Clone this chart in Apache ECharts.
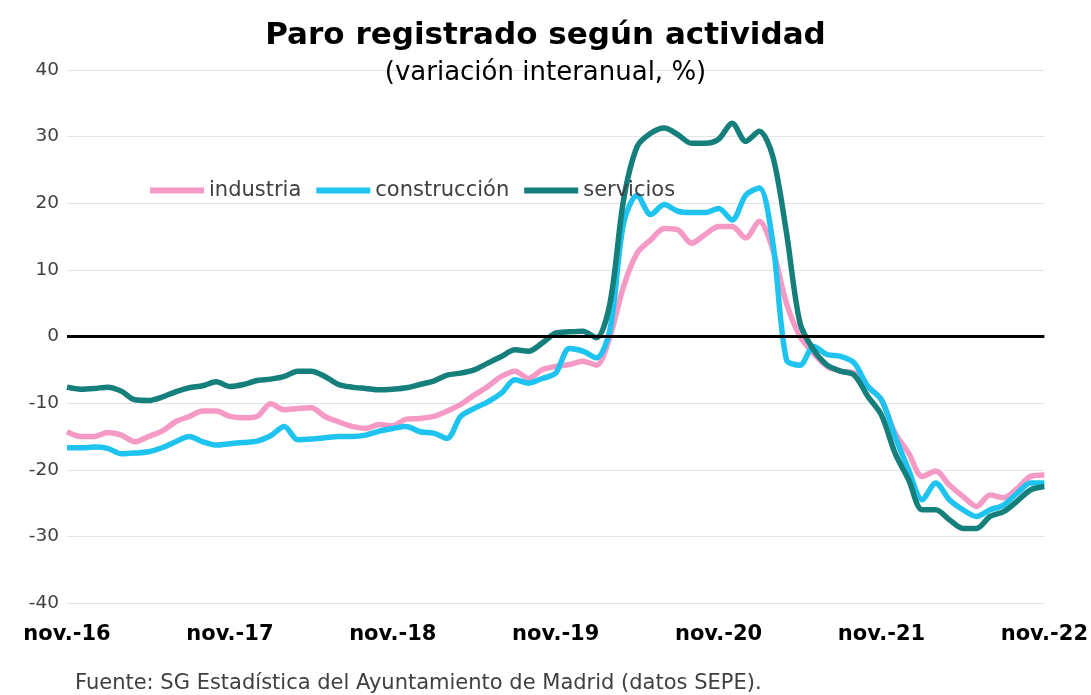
<!DOCTYPE html>
<html>
<head>
<meta charset="utf-8">
<script src="https://cdn.jsdelivr.net/npm/echarts@6/dist/echarts.min.js"></script>
<style>html,body{margin:0;padding:0;background:#fff}#c{width:1091px;height:695px}</style>
</head>
<body>
<div id="c"></div>
<script>
// month labels (Spanish abbreviations), from nov.-16 to nov.-22
var monthNames = ['nov.', 'dic.', 'ene.', 'feb.', 'mar.', 'abr.', 'may.', 'jun.', 'jul.', 'ago.', 'sep.', 'oct.'];
var startYear = 16;
var nMonths = 73;
var categories = [];
for (var i = 0; i < nMonths; i++) {
  var m = i % 12;
  var yr = startYear + Math.floor((i + 10) / 12);
  categories.push(monthNames[m] + '-' + yr);
}

var industria = [
  -14.3, -15.0, -15.0, -14.4, -14.8, -15.8, -15.0, -14.2, -12.8, -12.0, -11.2, -11.2,
  -12.0, -12.2, -12.0, -10.1, -11.0, -10.8, -10.7, -12.0, -12.8, -13.5, -13.8, -13.2,
  -13.4, -12.4, -12.3, -12.0, -11.2, -10.2, -8.8, -7.5, -6.0, -5.2, -6.3, -5.0,
  -4.5, -4.2, -3.7, -4.3, 0.0, 7.5, 12.5, 14.5, 16.2, 16.0, 14.0, 15.3,
  16.5, 16.5, 14.8, 17.3, 13.0, 5.0, 0.0, -2.5, -4.5, -5.2, -5.5, -7.5,
  -9.5, -14.5, -17.5, -21.0, -20.2, -22.3, -24.0, -25.5, -23.8, -24.2, -22.8, -21.0,
  -20.8
];
var construccion = [
  -16.7, -16.7, -16.6, -16.8, -17.6, -17.5, -17.3, -16.7, -15.8, -15.0, -15.8, -16.3,
  -16.1, -15.9, -15.7, -14.9, -13.5, -15.5, -15.4, -15.2, -15.0, -15.0, -14.8, -14.2,
  -13.8, -13.5, -14.3, -14.5, -15.3, -12.0, -10.8, -9.8, -8.5, -6.5, -7.0, -6.3,
  -5.5, -1.8, -2.2, -3.2, 1.0, 17.0, 21.2, 18.3, 19.8, 18.8, 18.6, 18.6,
  19.2, 17.5, 21.2, 22.3, 14.0, -3.5, -4.3, -1.5, -2.7, -3.0, -4.0, -7.5,
  -9.5, -15.0, -20.0, -24.5, -22.0, -24.5, -26.0, -27.0, -26.0, -25.3, -23.5, -22.0,
  -22.0
];
var servicios = [
  -7.6, -7.9, -7.8, -7.6, -8.2, -9.5, -9.6, -9.1, -8.3, -7.7, -7.4, -6.8,
  -7.5, -7.2, -6.6, -6.4, -6.0, -5.2, -5.2, -6.0, -7.2, -7.6, -7.8, -8.0,
  -7.9, -7.7, -7.2, -6.7, -5.8, -5.5, -5.0, -4.0, -3.0, -2.0, -2.2, -1.0,
  0.5, 0.7, 0.8, -0.2, 5.0, 20.5, 28.5, 30.5, 31.3, 30.3, 29.0, 29.0,
  29.6, 32.0, 29.3, 30.8, 27.0, 15.6, 2.0, -2.0, -4.3, -5.2, -5.8, -9.0,
  -11.8, -17.5, -21.5, -26.0, -26.0, -27.5, -28.8, -28.8, -27.0, -26.3, -24.7, -23.0,
  -22.5
];

var seriesNames = ['industria', 'construcción', 'servicios'];
var colors = ['#F59AC4', '#1EC3F0', '#147F7B'];

var FONT = "'DejaVu Sans'";
var chart = echarts.init(document.getElementById('c'), null, {renderer: 'canvas'});

function mkSeries(name, data, color, withZero) {
  var s = {
    name: name,
    type: 'line',
    data: data,
    smooth: 0.3,
    symbol: 'none',
    lineStyle: {color: color, width: 5.5},
    itemStyle: {color: color}
  };
  if (withZero) {
    s.markLine = {
      silent: true,
      symbol: 'none',
      label: {show: false},
      lineStyle: {color: '#000', width: 3, type: 'solid'},
      data: [{yAxis: 0}]
    };
  }
  return s;
}

chart.setOption({
  animation: false,
  backgroundColor: '#fff',
  title: [
    {text: 'Paro registrado según actividad', left: 'center', top: 20, padding: 0,
     textStyle: {fontFamily: FONT, fontWeight: 'bold', fontSize: 31, color: '#000'}},
    {text: '(variación interanual, %)', left: 'center', top: 60, padding: 0,
     textStyle: {fontFamily: FONT, fontWeight: 'normal', fontSize: 26, color: '#000'}},
    {text: 'Fuente: SG Estadística del Ayuntamiento de Madrid (datos SEPE).', left: 75, top: 673, padding: 0,
     textStyle: {fontFamily: FONT, fontWeight: 'normal', fontSize: 21, color: '#404040'}}
  ],
  legend: {
    left: 145, top: 175,
    itemWidth: 54, itemHeight: 20, itemGap: 15,
    icon: 'path://M0,0 L54,0 L54,6 L0,6 Z',
    textStyle: {fontFamily: FONT, fontSize: 21, color: '#404040', padding: [0, 0, 0, 0]},
    data: seriesNames
  },
  grid: {left: 67, right: 44, top: 70, bottom: 92, containLabel: false},
  xAxis: {
    type: 'category',
    data: categories,
    boundaryGap: false,
    axisLine: {show: false, onZero: false},
    axisTick: {show: false},
    splitLine: {show: false},
    axisLabel: {
      interval: 11,
      margin: 21,
      fontFamily: FONT, fontWeight: 'bold', fontSize: 21, color: '#000'
    }
  },
  yAxis: {
    type: 'value',
    min: -40, max: 40, interval: 10,
    axisLine: {show: false},
    axisTick: {show: false},
    splitLine: {lineStyle: {color: '#E4E4E4', width: 1}},
    axisLabel: {margin: 8, fontFamily: FONT, fontSize: 18.5, color: '#404040'}
  },
  series: [
    mkSeries(seriesNames[0], industria, colors[0], true),
    mkSeries(seriesNames[1], construccion, colors[1], false),
    mkSeries(seriesNames[2], servicios, colors[2], false)
  ]
});
</script>
</body>
</html>
